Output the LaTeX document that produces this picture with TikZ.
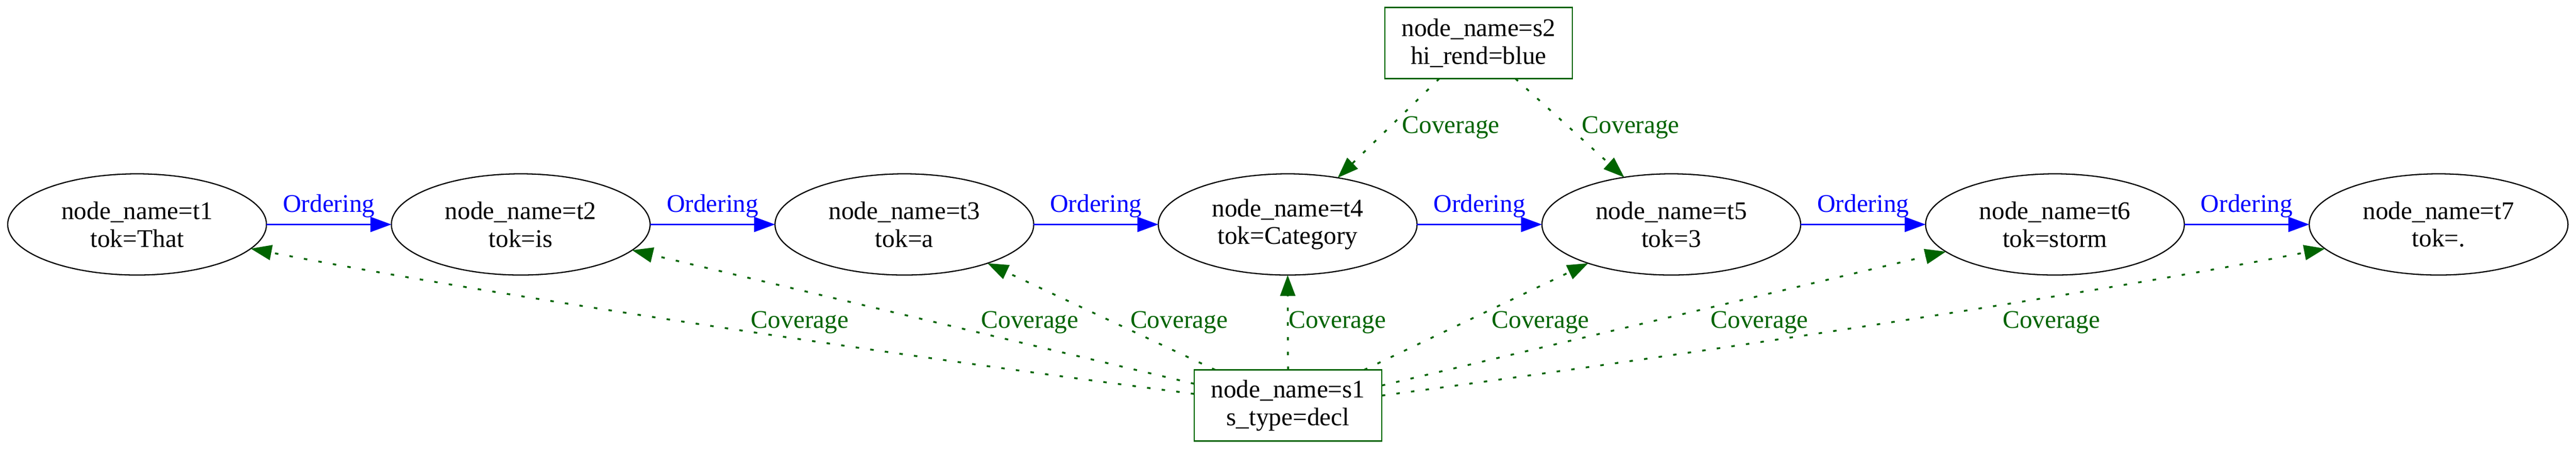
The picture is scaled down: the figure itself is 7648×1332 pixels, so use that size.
\documentclass[tikz,border=0pt]{standalone}
\usepackage{fontspec}
\setmainfont{Liberation Serif}
\usetikzlibrary{arrows.meta,shapes.geometric}
\definecolor{gvgreen}{HTML}{006400}
\definecolor{gvblue}{HTML}{0000FF}
\begin{document}
\begin{tikzpicture}[x={(0.1855pt,0)}, y={(0,-0.1855pt)},
  every node/.style={font=\fontsize{14pt}{15.2pt}\selectfont, inner sep=0pt, outer sep=0pt},
  tok/.style={draw=black, line width=0.65pt, ellipse, minimum width=142.5pt, minimum height=55.7pt, align=center},
  sent/.style={draw=gvgreen, line width=0.75pt, rectangle, minimum width=103.3pt, minimum height=39.1pt, align=center},
  ord/.style={draw=gvblue, line width=0.65pt, -{Triangle[length=11.5pt,width=8.3pt]}},
  cov/.style={draw=gvgreen, line width=1pt, dash pattern=on 1.9pt off 6.2pt, -{Triangle[length=11.5pt,width=8.3pt]}},
  ordlab/.style={text=gvblue, anchor=base, yshift=6.7pt},
  covlab/.style={text=gvgreen, anchor=base west}]
\useasboundingbox (0,0) rectangle (7648,1332);

% token nodes
\node[tok] (t1) at (407,666)  {node\_name=t1\\tok=That};
\node[tok] (t2) at (1546,666) {node\_name=t2\\tok=is};
\node[tok] (t3) at (2685,666) {node\_name=t3\\tok=a};
\node[tok] (t4) at (3823,666) {node\_name=t4\\tok=Category};
\node[tok] (t5) at (4962,666) {node\_name=t5\\tok=3};
\node[tok] (t6) at (6101,666) {node\_name=t6\\tok=storm};
\node[tok] (t7) at (7240,666) {node\_name=t7\\tok=.};

% span nodes
\node[sent] (s2) at (4390,128)  {node\_name=s2\\hi\_rend=blue};
\node[sent] (s1) at (3824,1203) {node\_name=s1\\s\_type=decl};

% ordering edges
\draw[ord] (t1.east) -- node[ordlab] (o1) {Ordering} (t2.west);
\draw[ord] (t2.east) -- node[ordlab] (o2) {Ordering} (t3.west);
\draw[ord] (t3.east) -- node[ordlab] (o3) {Ordering} (t4.west);
\draw[ord] (t4.east) -- node[ordlab] (o4) {Ordering} (t5.west);
\draw[ord] (t5.east) -- node[ordlab] (o5) {Ordering} (t6.west);
\draw[ord] (t6.east) -- node[ordlab] (o6) {Ordering} (t7.west);

% coverage edges from s2
\draw[cov] (s2.222.6) -- (t4.43.4);
\draw[cov] (s2.316.3) -- (t5.135.8);
\node[covlab] (c41) at (4163,395) {Coverage};
\node[covlab] (c51) at (4697,395) {Coverage};

% coverage edges from s1
\draw[cov] (s1.173.5) .. controls (2645,1053) and (1439,872) .. (t1.-12.4);
\draw[cov] (s1.167.5) -- (t2.-13.9);
\draw[cov] (s1.154.2) -- (t3.-25.2);
\draw[cov] (s1.north) -- (t4.south);
\draw[cov] (s1.25.6) -- (t5.205.2);
\draw[cov] (s1.12.2) -- (t6.194.1);
\draw[cov] (s1.6.4) .. controls (5002,1054) and (6211,872) .. (t7.192.5);

\node[covlab] (c1) at (2230,973) {Coverage};
\node[covlab] (c2) at (2913,973) {Coverage};
\node[covlab] (c3) at (3356,973) {Coverage};
\node[covlab] (c4) at (3826,973) {Coverage};
\node[covlab] (c5) at (4429,973) {Coverage};
\node[covlab] (c6) at (5079,973) {Coverage};
\node[covlab] (c7) at (5946,973) {Coverage};
\end{tikzpicture}
\end{document}
